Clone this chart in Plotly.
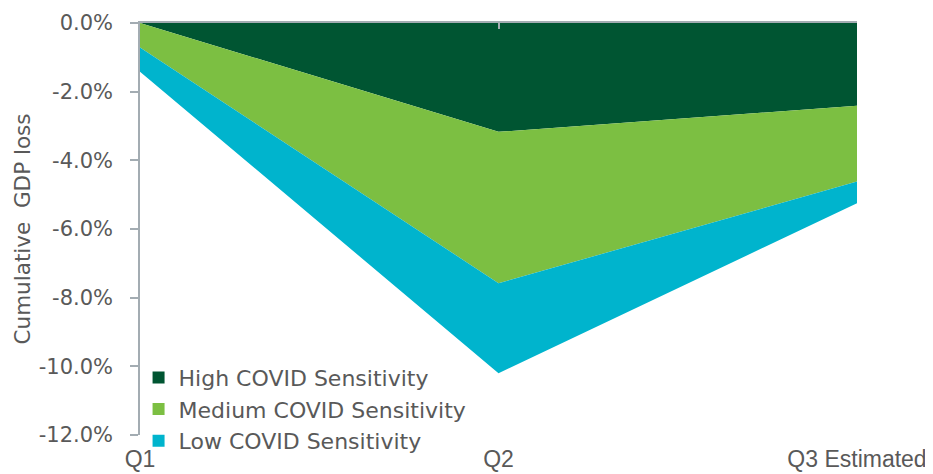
import plotly.graph_objects as go

quarters = ["Q1", "Q2", "Q3 Estimated"]
high = [0.0, -3.17, -2.41]
medium = [-0.71, -4.41, -2.21]
low = [-0.71, -2.62, -0.63]
series_names = ["High COVID Sensitivity", "Medium COVID Sensitivity", "Low COVID Sensitivity"]
colors = ["#005532", "#7CBF42", "#00B4CD"]
y_ticks = [0, -2, -4, -6, -8, -10, -12]
y_tick_labels = ["0.0%", "-2.0%", "-4.0%", "-6.0%", "-8.0%", "-10.0%", "-12.0%"]

xpos = list(range(len(quarters)))
fig = go.Figure()
for name, vals, col in zip(series_names, [high, medium, low], colors):
    fig.add_trace(go.Scatter(x=xpos, y=vals, name=name, stackgroup="one",
                             mode="lines", line=dict(width=0, color=col),
                             fillcolor=col, showlegend=False, hoverinfo="skip"))
for name, col in zip(series_names, colors):
    fig.add_trace(go.Scatter(x=[None], y=[None], name=name, mode="markers",
                             marker=dict(symbol="square", size=12, color=col)))

axis_col = "#A3ACB2"
txt_col = "#595959"
FONT = "DejaVu Sans"
XFONT = "Liberation Sans, Arial"
fig.update_layout(
    width=925, height=466,
    margin=dict(l=132, r=76, t=15, b=39, autoexpand=False),
    paper_bgcolor="white", plot_bgcolor="white",
    font=dict(family=FONT, color=txt_col, size=21),
    showlegend=True,
    legend=dict(x=-0.002, y=0.19, xanchor="left", yanchor="top",
                bgcolor="rgba(0,0,0,0)", font=dict(family=FONT, size=22, color=txt_col),
                traceorder="normal", itemwidth=30, tracegroupgap=0),
    xaxis=dict(range=[0, 2], tickmode="array", tickvals=xpos, ticktext=quarters,
               showgrid=False, zeroline=False, showline=False, ticks="", automargin=False,
               ticklabelstandoff=8, tickfont=dict(family=XFONT, size=23, color=txt_col)),
    xaxis2=dict(overlaying="x", matches="x", side="top", range=[0, 2],
                tickmode="array", tickvals=xpos, showticklabels=False, automargin=False,
                showline=True, linecolor=axis_col, linewidth=1.5,
                ticks="inside", ticklen=6, tickcolor=axis_col, tickwidth=1.5,
                showgrid=False, zeroline=False),
    yaxis=dict(range=[-12, 0], tickmode="array", tickvals=y_ticks, ticktext=y_tick_labels,
               showgrid=False, zeroline=False, showline=True, linecolor=axis_col,
               linewidth=1.5, ticks="outside", ticklen=8, tickcolor=axis_col, tickwidth=1.5,
               ticklabelstandoff=13, automargin=False, tickfont=dict(family=FONT, size=21, color=txt_col),
               title=dict(text="Cumulative  GDP loss", font=dict(family=FONT, size=21.5, color=txt_col), standoff=2)),
)
fig.add_trace(go.Scatter(x=[None], y=[None], xaxis="x2", showlegend=False, hoverinfo="skip"))
fig.write_html("out.html")
